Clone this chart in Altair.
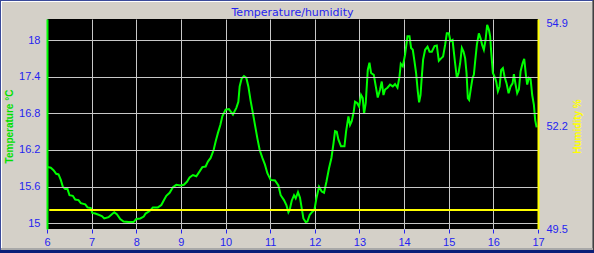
import altair as alt
import pandas as pd

# ---- data ----
hours = [
    6.01, 6.085, 6.146, 6.206, 6.258, 6.309, 6.354, 6.408, 6.460, 6.504,
    6.578, 6.632, 6.706, 6.758, 6.857, 6.908, 6.982, 7.013, 7.081, 7.155,
    7.229, 7.283, 7.379, 7.453, 7.507, 7.565, 7.641, 7.715, 7.827, 7.939,
    8.0, 8.09, 8.167, 8.209, 8.298, 8.372, 8.484, 8.561, 8.612, 8.673,
    8.747, 8.821, 8.897, 8.987, 9.067, 9.135, 9.195, 9.269, 9.345, 9.419,
    9.480, 9.554, 9.605, 9.666, 9.733, 9.778, 9.830, 9.883, 9.928, 10.002,
    10.076, 10.166, 10.242, 10.287, 10.316, 10.361, 10.413, 10.466, 10.511, 10.563,
    10.614, 10.659, 10.713, 10.765, 10.825, 10.883, 10.937, 11.011, 11.108, 11.184,
    11.235, 11.309, 11.363, 11.408, 11.437, 11.482, 11.534, 11.572, 11.623, 11.668,
    11.706, 11.744, 11.796, 11.834, 11.886, 11.946, 11.991, 12.036, 12.094, 12.155,
    12.206, 12.260, 12.318, 12.372, 12.417, 12.453, 12.491, 12.529, 12.587, 12.664,
    12.700, 12.753, 12.789, 12.827, 12.872, 12.901, 12.946, 12.991, 13.036, 13.074,
    13.103, 13.141, 13.186, 13.224, 13.260, 13.321, 13.366, 13.410, 13.462, 13.500,
    13.538, 13.574, 13.628, 13.686, 13.747, 13.798, 13.852, 13.897, 13.926, 13.971,
    14.022, 14.076, 14.121, 14.157, 14.195, 14.233, 14.269, 14.307, 14.336, 14.368,
    14.397, 14.426, 14.471, 14.525, 14.570, 14.621, 14.682, 14.733, 14.778, 14.830,
    14.874, 14.919, 14.957, 15.002, 15.040, 15.085, 15.114, 15.143, 15.182, 15.220,
    15.256, 15.294, 15.332, 15.368, 15.399, 15.428, 15.457, 15.496, 15.534, 15.563,
    15.592, 15.630, 15.675, 15.713, 15.749, 15.787, 15.825, 15.861, 15.899, 15.928,
    15.951, 15.989, 16.027, 16.063, 16.101, 16.139, 16.175, 16.213, 16.251, 16.296,
    16.341, 16.386, 16.430, 16.460, 16.498, 16.534, 16.572, 16.610, 16.655, 16.691,
    16.729, 16.758, 16.794, 16.834, 16.870, 16.908, 16.937, 16.969,
]
temps = [
    15.92, 15.91, 15.87, 15.81, 15.80, 15.71, 15.60, 15.56, 15.56, 15.46,
    15.45, 15.39, 15.38, 15.33, 15.31, 15.26, 15.25, 15.17, 15.16, 15.14,
    15.12, 15.08, 15.10, 15.15, 15.18, 15.15, 15.07, 15.03, 15.02, 15.02,
    15.07, 15.08, 15.11, 15.16, 15.20, 15.26, 15.26, 15.30, 15.37, 15.45,
    15.50, 15.59, 15.63, 15.62, 15.63, 15.68, 15.75, 15.79, 15.77, 15.85,
    15.92, 15.93, 16.01, 16.07, 16.20, 16.34, 16.48, 16.61, 16.75, 16.86,
    16.87, 16.78, 16.89, 16.99, 17.24, 17.37, 17.41, 17.38, 17.24, 17.00,
    16.80, 16.61, 16.39, 16.20, 16.07, 15.96, 15.82, 15.71, 15.70, 15.62,
    15.46, 15.38, 15.30, 15.18, 15.22, 15.37, 15.46, 15.41, 15.51, 15.42,
    15.25, 15.08, 15.02, 15.03, 15.14, 15.19, 15.22, 15.41, 15.60, 15.52,
    15.50, 15.68, 15.90, 16.07, 16.30, 16.51, 16.50, 16.37, 16.26, 16.26,
    16.50, 16.75, 16.61, 16.67, 16.83, 16.99, 16.97, 16.91, 17.10, 17.05,
    16.79, 16.97, 17.51, 17.63, 17.46, 17.43, 17.24, 17.06, 17.19, 17.32,
    17.10, 17.19, 17.22, 17.27, 17.24, 17.28, 17.22, 17.40, 17.61, 17.57,
    17.76, 18.06, 18.06, 17.87, 17.84, 17.65, 17.46, 17.16, 16.98, 17.10,
    17.40, 17.68, 17.84, 17.89, 17.81, 17.81, 17.90, 17.91, 17.66, 17.70,
    17.73, 17.92, 18.11, 18.11, 17.98, 18.00, 17.81, 17.62, 17.38, 17.46,
    17.62, 17.87, 17.81, 17.70, 17.46, 17.05, 17.02, 17.21, 17.38, 17.43,
    17.65, 17.92, 18.11, 18.03, 17.92, 17.84, 18.00, 18.25, 18.17, 18.06,
    17.81, 17.46, 17.40, 17.32, 17.16, 17.24, 17.51, 17.54, 17.40, 17.29,
    17.13, 17.24, 17.29, 17.44, 17.27, 17.13, 17.19, 17.49, 17.62, 17.69,
    17.43, 17.27, 17.38, 17.36, 17.10, 16.94, 16.69, 16.57,
]
hum_hours = [6.05, 17.0]
hum_values = [50.0, 50.0]

x_ticks = [6, 7, 8, 9, 10, 11, 12, 13, 14, 15, 16, 17]
temp_ticks = [15, 15.6, 16.2, 16.8, 17.4, 18]
hum_ticks = [49.5, 52.2, 54.9]

temp_df = pd.DataFrame({"hour": hours, "temp": temps})
hum_df = pd.DataFrame({"hour": hum_hours, "hum": hum_values})

BLUE = "#2424F0"
LABEL_FONT = "Liberation Sans"


def x_enc():
    return alt.X(
        "hour:Q",
        scale=alt.Scale(domain=[6, 17], nice=False, zero=False),
        axis=alt.Axis(
            values=x_ticks, title=None, labelFont=LABEL_FONT, labelFontSize=11,
            labelColor=BLUE, tickColor=BLUE, tickSize=4, labelPadding=3,
            domain=False, gridColor="#C8C8C8", gridWidth=1, labelFlush=False,
        ),
    )


temp_line = alt.Chart(temp_df).mark_line(color="#00FF00", strokeWidth=2, clip=True).encode(
    x=x_enc(),
    y=alt.Y(
        "temp:Q",
        scale=alt.Scale(domain=[14.907, 18.344], nice=False, zero=False),
        axis=alt.Axis(
            values=temp_ticks, format="~g", title="Temperature °C",
            labelFont=LABEL_FONT, labelFontSize=11, labelColor=BLUE,
            ticks=False, tickSize=0, labelPadding=7,
            domainColor="#00FF00", domainWidth=2,
            gridColor="#C8C8C8", gridWidth=1,
            titleFont=LABEL_FONT, titleFontSize=10, titleFontWeight="bold",
            titleColor="#00E000", titleAngle=270, titleX=-38, titleY=107,
            titleAlign="center", titleBaseline="middle", zindex=1,
        ),
    ),
)

hum_line = alt.Chart(hum_df).mark_line(color="#FFFF00", strokeWidth=2).encode(
    x=x_enc(),
    y=alt.Y(
        "hum:Q",
        scale=alt.Scale(domain=[49.5, 55.02], nice=False, zero=False),
        axis=alt.Axis(
            orient="right", values=hum_ticks, format=".1f", title="Humidity %",
            labelFont=LABEL_FONT, labelFontSize=11, labelColor=BLUE,
            ticks=False, tickSize=0, labelPadding=8, grid=False,
            domainColor="#FFFF00", domainWidth=2,
            titleFont=LABEL_FONT, titleFontSize=10, titleFontWeight="bold",
            titleColor="#FFFF00", titleAngle=270, titleX=39, titleY=107,
            titleAlign="center", titleBaseline="middle", zindex=1,
        ),
    ),
)

one = pd.DataFrame({"a": [0]})


def band(x, x2, y, y2, color):
    return alt.Chart(one).mark_rect(color=color).encode(
        x=alt.value(x), x2=alt.value(x2), y=alt.value(y), y2=alt.value(y2)
    )


frame = [
    band(-47, 547, -19, -18, "#3A4A9A"),
    band(-47, -46, -19, 234, "#3A4A9A"),
    band(-46, 546, -18, -17, "#FFFFFF"),
    band(-46, -45, -18, 231, "#FFFFFF"),
    band(545, 546, -18, 231, "#808080"),
    band(546, 547, -19, 234, "#404040"),
    band(-46, 546, 229, 231, "#A8A8A8"),
    band(-47, 547, 231, 234, "#0A1E78"),
]

chart = (
    alt.layer(temp_line, hum_line, *frame)
    .resolve_scale(y="independent")
    .properties(
        width=491,
        height=210,
        autosize=alt.AutoSizeParams(type="none"),
        padding={"left": 47, "top": 19, "right": 56, "bottom": 24},
        title=alt.TitleParams(
            "Temperature/humidity", font="DejaVu Sans", fontSize=11,
            fontWeight="normal", color=BLUE, anchor="middle", offset=-27,
            baseline="alphabetic",
        ),
    )
    .configure(background="#D4D0C8")
    .configure_view(fill="black", strokeWidth=0)
)

chart.save("out.html", embed_options={"renderer": "svg", "actions": False})
